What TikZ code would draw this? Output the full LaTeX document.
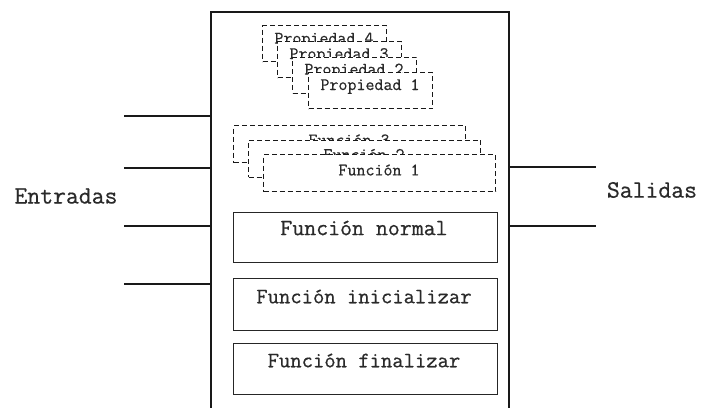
\documentclass[tikz,border=0pt]{standalone}
\usepackage{fontspec}
\newfontfamily\cour[FakeBold=0.6]{Latin Modern Mono}
\definecolor{ink}{HTML}{2a2a2a}
\tikzset{
  dbox/.style={draw=black!90, line width=1.1pt, dash pattern=on 5pt off 3pt,
               fill=white, anchor=north west, inner sep=0pt},
  propbox/.style={dbox, minimum width=124pt, minimum height=36pt},
  funbox/.style={dbox, minimum width=232pt, minimum height=37pt},
  sbox/.style={draw=black!85, line width=1.4pt, anchor=north west,
               minimum width=264pt, inner sep=0pt},
  txt/.style={text=ink, inner sep=0pt},
  small/.style={txt, font=\cour\fontsize{17.5}{20}\selectfont},
  wire/.style={line width=1.9pt, draw=black!90},
}
\begin{document}
\begin{tikzpicture}[x=1pt,y=-1pt]
\useasboundingbox (0,0) rectangle (704,407);

% module body (open towards the bottom of the page)
\node[draw=black!90, line width=2pt, anchor=north west, inner sep=0pt,
      minimum width=298pt, minimum height=402pt] (mod) at (210,11) {};

% stacked property boxes, back to front
\node[propbox] (p4) at (262,25) {};
\node[small] (p4t) at (324,40) {Propiedad 4};
\node[propbox] (p3) at (277,41) {};
\node[small] (p3t) at (339,55.5) {Propiedad 3};
\node[propbox] (p2) at (292,56.5) {};
\node[small] (p2t) at (354,71) {Propiedad 2};
\node[propbox] (p1) at (308,72) {};
\node[small] (p1t) at (370,86.5) {Propiedad 1};

% stacked function boxes, back to front
\node[funbox] (f3) at (233,125) {};
\node[small] (f3t) at (349,140) {Función 3};
\node[funbox] (f2) at (248,139.5) {};
\node[small] (f2t) at (364,154.5) {Función 2};
\node[funbox] (f1) at (263,154) {};
\node[small] (f1t) at (379,170) {Función 1};

% fixed functions
\node[sbox, minimum height=50pt] (fn) at (233,212) {};
\node[txt, font=\cour\fontsize{23.2}{27}\selectfont] (fnt) at (364,228) {Función normal};
\node[sbox, minimum height=52pt] (fi) at (233,278) {};
\node[txt, font=\cour\fontsize{22}{26}\selectfont] (fit) at (364,296.5) {Función inicializar};
\node[sbox, minimum height=51pt] (ff) at (233,343) {};
\node[txt, font=\cour\fontsize{22}{26}\selectfont] (fft) at (364,360.5) {Función finalizar};

% inputs
\coordinate (i1) at (124,116);
\coordinate (i2) at (124,168);
\coordinate (i3) at (124,226);
\coordinate (i4) at (124,284);
\foreach \c in {i1,i2,i3,i4}
  \draw[wire] (\c) -- (\c -| mod.west);
\node[txt, font=\cour\fontsize{25}{29}\selectfont] (ent) at (66,196) {Entradas};

% outputs
\coordinate (o1) at (596,167);
\coordinate (o2) at (596,226);
\foreach \c in {o1,o2}
  \draw[wire] (\c -| mod.east) -- (\c);
\node[txt, font=\cour\fontsize{25}{29}\selectfont] (sal) at (652,190) {Salidas};
\end{tikzpicture}
\end{document}
